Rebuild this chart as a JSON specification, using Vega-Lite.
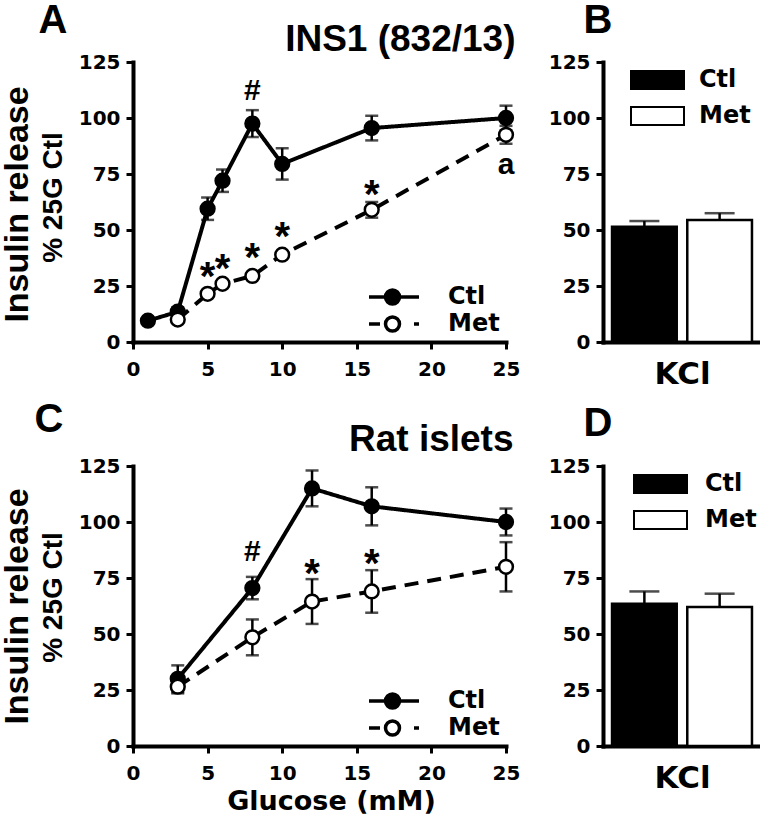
{
  "$schema": "https://vega.github.io/schema/vega-lite/v6.json",
  "padding": 0,
  "datasets": {
    "lineA": [
      {"glucose": 1, "group": "Ctl", "mean": 9.5, "sem": 1.2},
      {"glucose": 3, "group": "Ctl", "mean": 13.5, "sem": 2},
      {"glucose": 5, "group": "Ctl", "mean": 59.5, "sem": 5},
      {"glucose": 6, "group": "Ctl", "mean": 72, "sem": 5},
      {"glucose": 8, "group": "Ctl", "mean": 97.5, "sem": 6},
      {"glucose": 10, "group": "Ctl", "mean": 79.5, "sem": 7},
      {"glucose": 16, "group": "Ctl", "mean": 95.5, "sem": 5.5},
      {"glucose": 25, "group": "Ctl", "mean": 100, "sem": 5.5},
      {"glucose": 3, "group": "Met", "mean": 10, "sem": 1.2},
      {"glucose": 5, "group": "Met", "mean": 21.5, "sem": 1.2},
      {"glucose": 6, "group": "Met", "mean": 26, "sem": 1.2},
      {"glucose": 8, "group": "Met", "mean": 29.5, "sem": 1.2},
      {"glucose": 10, "group": "Met", "mean": 39, "sem": 1.2},
      {"glucose": 16, "group": "Met", "mean": 59, "sem": 3.5},
      {"glucose": 25, "group": "Met", "mean": 92.5, "sem": 4}
    ],
    "annA": [
      {"glucose": 8, "y": 108, "label": "#"},
      {"glucose": 5, "y": 23, "label": "*"},
      {"glucose": 6, "y": 27, "label": "*"},
      {"glucose": 8, "y": 31.5, "label": "*"},
      {"glucose": 10, "y": 41, "label": "*"},
      {"glucose": 16, "y": 60, "label": "*"},
      {"glucose": 25, "y": 75, "label": "a"}
    ],
    "lineC": [
      {"glucose": 3, "group": "Ctl", "mean": 30, "sem": 6},
      {"glucose": 8, "group": "Ctl", "mean": 70.5, "sem": 5},
      {"glucose": 12, "group": "Ctl", "mean": 115, "sem": 8},
      {"glucose": 16, "group": "Ctl", "mean": 107, "sem": 8.5},
      {"glucose": 25, "group": "Ctl", "mean": 100, "sem": 6},
      {"glucose": 3, "group": "Met", "mean": 26.5, "sem": 3},
      {"glucose": 8, "group": "Met", "mean": 48.5, "sem": 8},
      {"glucose": 12, "group": "Met", "mean": 64.5, "sem": 10},
      {"glucose": 16, "group": "Met", "mean": 69, "sem": 9.5},
      {"glucose": 25, "group": "Met", "mean": 80, "sem": 11}
    ],
    "annC": [
      {"glucose": 8, "y": 82.5, "label": "#"},
      {"glucose": 12, "y": 71, "label": "*"},
      {"glucose": 16, "y": 75.5, "label": "*"}
    ],
    "barB": [
      {"group": "Ctl", "mean": 51.5, "sem": 2.5},
      {"group": "Met", "mean": 54.5, "sem": 3}
    ],
    "barD": [
      {"group": "Ctl", "mean": 63.5, "sem": 5.5},
      {"group": "Met", "mean": 62, "sem": 6}
    ]
  },
  "spacing": 10,
  "vconcat": [
    {
      "spacing": 28,
      "hconcat": [
        {
          "width": 373,
          "height": 280,
          "data": {"name": "lineA"},
          "layer": [
            {
              "mark": {"type": "errorbar", "color": "black", "thickness": 2.5, "ticks": {"size": 13, "thickness": 2.5, "color": "black"}},
              "encoding": {
                "x": {"field": "glucose", "type": "quantitative", "scale": {"domain": [0, 25], "nice": false, "zero": false},
                  "axis": {"orient": "bottom", "title": null, "values": [0, 5, 10, 15, 20, 25], "labelPadding": 10, "labelFlush": false}},
                "y": {"field": "mean", "type": "quantitative", "scale": {"domain": [0, 125], "nice": false},
                  "axis": {"orient": "left", "values": [0, 25, 50, 75, 100, 125], "title": "Insulin release", "titleFont": "Liberation Sans", "titleFontSize": 34, "titleAngle": -90, "titleBaseline": "alphabetic", "titleAlign": "center", "titleX": -106, "titleY": 142}},
                "yError": {"field": "sem"},
                "detail": {"field": "group"}
              }
            },
            {
              "mark": {"type": "line", "color": "black", "strokeWidth": 4},
              "encoding": {
                "x": {"field": "glucose", "type": "quantitative", "scale": {"domain": [0, 25], "nice": false, "zero": false},
                  "axis": {"orient": "top", "domain": false, "ticks": false, "labels": false, "title": "A", "titleFont": "Liberation Sans", "titleFontSize": 40, "titleAngle": 0, "titleAlign": "left", "titleBaseline": "alphabetic", "titleX": -95, "titleY": -30}},
                "y": {"field": "mean", "type": "quantitative", "scale": {"domain": [0, 125], "nice": false},
                  "axis": {"orient": "left", "domain": false, "ticks": false, "labels": false, "title": "% 25G Ctl", "titleFont": "Liberation Sans", "titleFontSize": 28, "titleAngle": -90, "titleBaseline": "alphabetic", "titleAlign": "center", "titleX": -72, "titleY": 135}},
                "strokeDash": {"field": "group", "type": "nominal", "scale": {"domain": ["Ctl", "Met"], "range": [[1, 0], [14, 9]]}, "legend": null}
              }
            },
            {
              "mark": {"type": "circle", "size": 190, "stroke": "black", "strokeWidth": 2.5, "opacity": 1},
              "encoding": {
                "x": {"field": "glucose", "type": "quantitative", "scale": {"domain": [0, 25], "nice": false, "zero": false},
                  "axis": {"orient": "top", "domain": false, "ticks": false, "labels": false, "title": "INS1 (832/13)", "titleFont": "Liberation Sans", "titleFontSize": 37, "titleAngle": 0, "titleAlign": "right", "titleBaseline": "alphabetic", "titleX": 382, "titleY": -12}},
                "y": {"field": "mean", "type": "quantitative", "scale": {"domain": [0, 125], "nice": false}, "axis": null},
                "fill": {"field": "group", "type": "nominal", "scale": {"domain": ["Ctl", "Met"], "range": ["black", "white"]},
                  "legend": {"orient": "bottom-right", "offset": 6, "title": null, "symbolSize": 400, "symbolStrokeColor": "black", "symbolStrokeWidth": 3.5, "labelOffset": 57, "rowPadding": 3, "clipHeight": 24,
                    "symbolType": {"expr": "datum.value === 'Ctl' ? 'M-1,0H4M2.05,0A0.7,0.7 0 1,1 0.65,0A0.7,0.7 0 1,1 2.05,0Z' : 'M-1,0H0.1M3.5,0H4M2.05,0A0.7,0.7 0 1,1 0.65,0A0.7,0.7 0 1,1 2.05,0Z'"}}}
              }
            },
            {
              "data": {"name": "annA"},
              "transform": [{"filter": "datum.label !== '*'"}],
              "mark": {"type": "text", "font": "Liberation Sans", "fontSize": 30, "fontWeight": "bold", "baseline": "alphabetic", "align": "center", "color": "black"},
              "encoding": {
                "x": {"field": "glucose", "type": "quantitative", "scale": {"domain": [0, 25], "nice": false, "zero": false}, "axis": null},
                "y": {"field": "y", "type": "quantitative", "scale": {"domain": [0, 125], "nice": false}, "axis": null},
                "text": {"field": "label"}
              }
            },
            {
              "data": {"name": "annA"},
              "transform": [{"filter": "datum.label === '*'"}],
              "mark": {"type": "text", "font": "Liberation Sans", "fontSize": 40, "fontWeight": "bold", "baseline": "alphabetic", "align": "center", "color": "black"},
              "encoding": {
                "x": {"field": "glucose", "type": "quantitative", "scale": {"domain": [0, 25], "nice": false, "zero": false}, "axis": null},
                "y": {"field": "y", "type": "quantitative", "scale": {"domain": [0, 125], "nice": false}, "axis": null},
                "text": {"field": "label"}
              }
            }
          ],
          "resolve": {"axis": {"x": "independent", "y": "independent"}}
        },
        {
          "width": 158,
          "height": 280,
          "data": {"name": "barB"},
          "layer": [
            {
              "mark": {"type": "errorbar", "color": "black", "thickness": 2.5, "ticks": {"size": 30, "thickness": 2.5, "color": "black"}},
              "encoding": {
                "x": {"field": "group", "type": "nominal", "scale": {"domain": ["Ctl", "Met"], "paddingInner": 0.14, "paddingOuter": 0.12},
                  "axis": {"orient": "bottom", "labels": false, "ticks": false, "title": "KCl", "titleFont": "DejaVu Sans", "titleFontSize": 31, "titlePadding": 17}},
                "y": {"field": "mean", "type": "quantitative", "scale": {"domain": [0, 125], "nice": false},
                  "axis": {"orient": "left", "values": [0, 25, 50, 75, 100, 125], "title": null}},
                "yError": {"field": "sem"}
              }
            },
            {
              "mark": {"type": "bar", "stroke": "black", "strokeWidth": 2.5},
              "encoding": {
                "x": {"field": "group", "type": "nominal", "scale": {"domain": ["Ctl", "Met"], "paddingInner": 0.14, "paddingOuter": 0.12},
                  "axis": {"orient": "top", "domain": false, "ticks": false, "labels": false, "title": "B", "titleFont": "Liberation Sans", "titleFontSize": 40, "titleAngle": 0, "titleAlign": "left", "titleBaseline": "alphabetic", "titleX": -20, "titleY": -30}},
                "y": {"field": "mean", "type": "quantitative", "scale": {"domain": [0, 125], "nice": false}, "axis": null},
                "fill": {"field": "group", "type": "nominal", "scale": {"domain": ["Ctl", "Met"], "range": ["black", "white"]},
                  "legend": {"orient": "top-left", "offset": 6, "title": null, "symbolType": "M-1,-0.9H4.3V0.9H-1Z", "symbolSize": 400, "symbolStrokeColor": "black", "symbolStrokeWidth": 2, "symbolOffset": 20, "labelOffset": 46, "rowPadding": 10}}
              }
            }
          ],
          "resolve": {"axis": {"x": "independent", "y": "independent"}}
        }
      ]
    },
    {
      "spacing": 28,
      "hconcat": [
        {
          "width": 373,
          "height": 280,
          "data": {"name": "lineC"},
          "layer": [
            {
              "mark": {"type": "errorbar", "color": "black", "thickness": 2.5, "ticks": {"size": 13, "thickness": 2.5, "color": "black"}},
              "encoding": {
                "x": {"field": "glucose", "type": "quantitative", "scale": {"domain": [0, 25], "nice": false, "zero": false},
                  "axis": {"orient": "bottom", "title": "Glucose (mM)", "titleFont": "DejaVu Sans", "titleFontSize": 27, "titleX": 198, "titleY": 42, "titleAlign": "center", "titleBaseline": "top", "values": [0, 5, 10, 15, 20, 25], "labelPadding": 10, "labelFlush": false}},
                "y": {"field": "mean", "type": "quantitative", "scale": {"domain": [0, 125], "nice": false},
                  "axis": {"orient": "left", "values": [0, 25, 50, 75, 100, 125], "title": "Insulin release", "titleFont": "Liberation Sans", "titleFontSize": 34, "titleAngle": -90, "titleBaseline": "alphabetic", "titleAlign": "center", "titleX": -106, "titleY": 140}},
                "yError": {"field": "sem"},
                "detail": {"field": "group"}
              }
            },
            {
              "mark": {"type": "line", "color": "black", "strokeWidth": 4},
              "encoding": {
                "x": {"field": "glucose", "type": "quantitative", "scale": {"domain": [0, 25], "nice": false, "zero": false},
                  "axis": {"orient": "top", "domain": false, "ticks": false, "labels": false, "title": "C", "titleFont": "Liberation Sans", "titleFontSize": 40, "titleAngle": 0, "titleAlign": "left", "titleBaseline": "alphabetic", "titleX": -99, "titleY": -35}},
                "y": {"field": "mean", "type": "quantitative", "scale": {"domain": [0, 125], "nice": false},
                  "axis": {"orient": "left", "domain": false, "ticks": false, "labels": false, "title": "% 25G Ctl", "titleFont": "Liberation Sans", "titleFontSize": 28, "titleAngle": -90, "titleBaseline": "alphabetic", "titleAlign": "center", "titleX": -72, "titleY": 131}},
                "strokeDash": {"field": "group", "type": "nominal", "scale": {"domain": ["Ctl", "Met"], "range": [[1, 0], [14, 9]]}, "legend": null}
              }
            },
            {
              "mark": {"type": "circle", "size": 190, "stroke": "black", "strokeWidth": 2.5, "opacity": 1},
              "encoding": {
                "x": {"field": "glucose", "type": "quantitative", "scale": {"domain": [0, 25], "nice": false, "zero": false},
                  "axis": {"orient": "top", "domain": false, "ticks": false, "labels": false, "title": "Rat islets", "titleFont": "Liberation Sans", "titleFontSize": 37, "titleAngle": 0, "titleAlign": "right", "titleBaseline": "alphabetic", "titleX": 380, "titleY": -16}},
                "y": {"field": "mean", "type": "quantitative", "scale": {"domain": [0, 125], "nice": false}, "axis": null},
                "fill": {"field": "group", "type": "nominal", "scale": {"domain": ["Ctl", "Met"], "range": ["black", "white"]},
                  "legend": {"orient": "bottom-right", "offset": 6, "title": null, "symbolSize": 400, "symbolStrokeColor": "black", "symbolStrokeWidth": 3.5, "labelOffset": 57, "rowPadding": 3, "clipHeight": 24,
                    "symbolType": {"expr": "datum.value === 'Ctl' ? 'M-1,0H4M2.05,0A0.7,0.7 0 1,1 0.65,0A0.7,0.7 0 1,1 2.05,0Z' : 'M-1,0H0.1M3.5,0H4M2.05,0A0.7,0.7 0 1,1 0.65,0A0.7,0.7 0 1,1 2.05,0Z'"}}}
              }
            },
            {
              "data": {"name": "annC"},
              "transform": [{"filter": "datum.label !== '*'"}],
              "mark": {"type": "text", "font": "Liberation Sans", "fontSize": 30, "fontWeight": "bold", "baseline": "alphabetic", "align": "center", "color": "black"},
              "encoding": {
                "x": {"field": "glucose", "type": "quantitative", "scale": {"domain": [0, 25], "nice": false, "zero": false}, "axis": null},
                "y": {"field": "y", "type": "quantitative", "scale": {"domain": [0, 125], "nice": false}, "axis": null},
                "text": {"field": "label"}
              }
            },
            {
              "data": {"name": "annC"},
              "transform": [{"filter": "datum.label === '*'"}],
              "mark": {"type": "text", "font": "Liberation Sans", "fontSize": 40, "fontWeight": "bold", "baseline": "alphabetic", "align": "center", "color": "black"},
              "encoding": {
                "x": {"field": "glucose", "type": "quantitative", "scale": {"domain": [0, 25], "nice": false, "zero": false}, "axis": null},
                "y": {"field": "y", "type": "quantitative", "scale": {"domain": [0, 125], "nice": false}, "axis": null},
                "text": {"field": "label"}
              }
            }
          ],
          "resolve": {"axis": {"x": "independent", "y": "independent"}}
        },
        {
          "width": 158,
          "height": 280,
          "data": {"name": "barD"},
          "layer": [
            {
              "mark": {"type": "errorbar", "color": "black", "thickness": 2.5, "ticks": {"size": 30, "thickness": 2.5, "color": "black"}},
              "encoding": {
                "x": {"field": "group", "type": "nominal", "scale": {"domain": ["Ctl", "Met"], "paddingInner": 0.14, "paddingOuter": 0.12},
                  "axis": {"orient": "bottom", "labels": false, "ticks": false, "title": "KCl", "titleFont": "DejaVu Sans", "titleFontSize": 31, "titlePadding": 17}},
                "y": {"field": "mean", "type": "quantitative", "scale": {"domain": [0, 125], "nice": false},
                  "axis": {"orient": "left", "values": [0, 25, 50, 75, 100, 125], "title": null}},
                "yError": {"field": "sem"}
              }
            },
            {
              "mark": {"type": "bar", "stroke": "black", "strokeWidth": 2.5},
              "encoding": {
                "x": {"field": "group", "type": "nominal", "scale": {"domain": ["Ctl", "Met"], "paddingInner": 0.14, "paddingOuter": 0.12},
                  "axis": {"orient": "top", "domain": false, "ticks": false, "labels": false, "title": "D", "titleFont": "Liberation Sans", "titleFontSize": 40, "titleAngle": 0, "titleAlign": "left", "titleBaseline": "alphabetic", "titleX": -20, "titleY": -31}},
                "y": {"field": "mean", "type": "quantitative", "scale": {"domain": [0, 125], "nice": false}, "axis": null},
                "fill": {"field": "group", "type": "nominal", "scale": {"domain": ["Ctl", "Met"], "range": ["black", "white"]},
                  "legend": {"orient": "top-left", "offset": 6, "title": null, "symbolType": "M-1,-0.9H4.3V0.9H-1Z", "symbolSize": 400, "symbolStrokeColor": "black", "symbolStrokeWidth": 2, "symbolOffset": 23, "labelOffset": 49, "rowPadding": 10}}
              }
            }
          ],
          "resolve": {"axis": {"x": "independent", "y": "independent"}}
        }
      ]
    }
  ],
  "config": {
    "font": "Liberation Sans",
    "view": {"stroke": null},
    "axis": {"grid": false, "domainColor": "black", "domainWidth": 4, "domainCap": "square", "tickColor": "black", "tickWidth": 3, "tickSize": 7, "labelColor": "black", "labelFont": "DejaVu Sans", "labelFontSize": 20, "labelFontWeight": "bold", "titleColor": "black", "titleFontWeight": "bold", "labelPadding": 6},
    "legend": {"labelFont": "DejaVu Sans", "labelFontSize": 24, "labelFontWeight": "bold", "labelColor": "black", "padding": 0}
  }
}
